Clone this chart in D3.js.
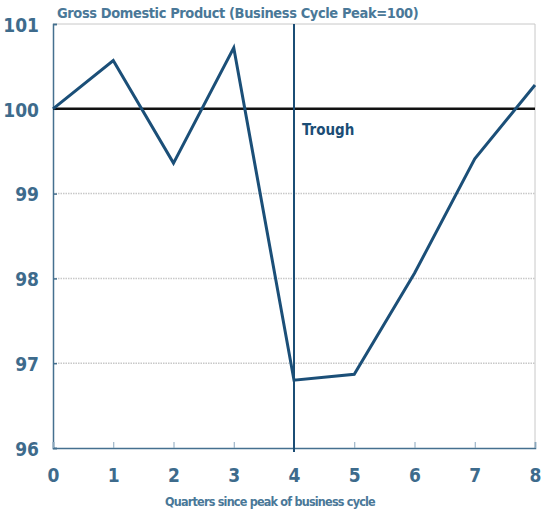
<!DOCTYPE html>
<html>
<head>
<meta charset="utf-8">
<script src="https://cdn.jsdelivr.net/npm/d3@7"></script>
<style>
  body { margin: 0; background: #fff; }
  text { font-family: "DejaVu Sans Condensed", "DejaVu Sans", sans-serif; font-weight: bold; }
</style>
</head>
<body>
<div id="chart"></div>
<script>
// quarters since peak and GDP index (peak = 100)
var quarters = [0, 1, 2, 3, 4, 5, 6, 7, 8];
var gdp = [100, 100.57, 99.36, 100.72, 96.80, 96.87, 98.06, 99.41, 100.28];
var yTicks = [96, 97, 98, 99, 100, 101];
var troughQuarter = 4;

var W = 544, H = 516;
var m = {top: 24, right: 9, bottom: 68, left: 53};

var svg = d3.select("#chart").append("svg")
    .attr("width", W)
    .attr("height", H);

var x = d3.scaleLinear().domain([0, 8]).range([m.left, W - m.right]);
var y = d3.scaleLinear().domain([96, 101]).range([H - m.bottom, m.top]);

// frame top/right in light grey
svg.append("path")
    .attr("d", "M" + x(0) + "," + y(101) + "H" + x(8) + "V" + y(96))
    .attr("fill", "none")
    .attr("stroke", "#c8c8c8")
    .attr("stroke-width", 1);

// dotted gridlines
svg.selectAll(".grid")
    .data([97, 98, 99])
    .enter()
    .append("line")
    .attr("x1", x(0))
    .attr("x2", x(8))
    .attr("y1", function(d){ return y(d); })
    .attr("y2", function(d){ return y(d); })
    .attr("stroke", "#c8c8c8")
    .attr("stroke-width", 1.5)
    .attr("stroke-dasharray", "1.5,1");

// y axis
var yAxis = svg.append("g")
    .attr("transform", "translate(" + x(0) + ",0)")
    .call(d3.axisRight(y).tickValues(yTicks).tickSize(4).tickFormat(d3.format("d")));
yAxis.select(".domain").attr("stroke", "#45708f").attr("stroke-width", 1.5);
yAxis.selectAll(".tick line").attr("stroke", "#45708f").attr("stroke-width", 1.5);
yAxis.selectAll(".tick text")
    .attr("x", -14)
    .attr("dy", "0.38em")
    .attr("text-anchor", "end")
    .attr("fill", "#3e6b8c")
    .style("font-size", "19px");

// x axis
var xAxis = svg.append("g")
    .attr("transform", "translate(0," + y(96) + ")")
    .call(d3.axisTop(x).tickValues(quarters).tickSize(6).tickFormat(d3.format("d")));
xAxis.select(".domain").attr("stroke", "#45708f").attr("stroke-width", 1.5);
xAxis.selectAll(".tick line").attr("stroke", "#8aa7bd").attr("stroke-width", 1);
xAxis.selectAll(".tick text")
    .attr("y", 27)
    .attr("dy", "0.35em")
    .attr("fill", "#3e6b8c")
    .style("font-size", "19px");

// peak=100 reference line
svg.append("line")
    .attr("x1", x(0))
    .attr("x2", x(8))
    .attr("y1", y(100))
    .attr("y2", y(100))
    .attr("stroke", "#111")
    .attr("stroke-width", 2.5);

// trough marker
svg.append("line")
    .attr("x1", x(troughQuarter))
    .attr("x2", x(troughQuarter))
    .attr("y1", y(101))
    .attr("y2", y(96) + 4)
    .attr("stroke", "#1b4d75")
    .attr("stroke-width", 2);
svg.append("text")
    .attr("x", x(troughQuarter) + 8)
    .attr("y", y(100) + 26)
    .attr("fill", "#1b4d75")
    .style("font-size", "15px")
    .text("Trough");

// GDP line
var line = d3.line()
    .x(function(d, i){ return x(quarters[i]); })
    .y(function(d){ return y(d); });
svg.append("path")
    .datum(gdp)
    .attr("d", line)
    .attr("fill", "none")
    .attr("stroke", "#1b4f78")
    .attr("stroke-width", 3)
    .attr("stroke-linejoin", "miter");

// title and axis label
svg.append("text")
    .attr("x", 57)
    .attr("y", 18)
    .attr("fill", "#4a7898")
    .style("font-size", "14.5px")
    .style("letter-spacing", "-0.4px")
    .text("Gross Domestic Product (Business Cycle Peak=100)");
svg.append("text")
    .attr("x", (x(0) + x(8)) / 2 - 24)
    .attr("y", 506)
    .attr("text-anchor", "middle")
    .attr("fill", "#4a7898")
    .style("font-size", "12.5px")
    .style("letter-spacing", "-0.8px")
    .text("Quarters since peak of business cycle");
</script>
</body>
</html>
